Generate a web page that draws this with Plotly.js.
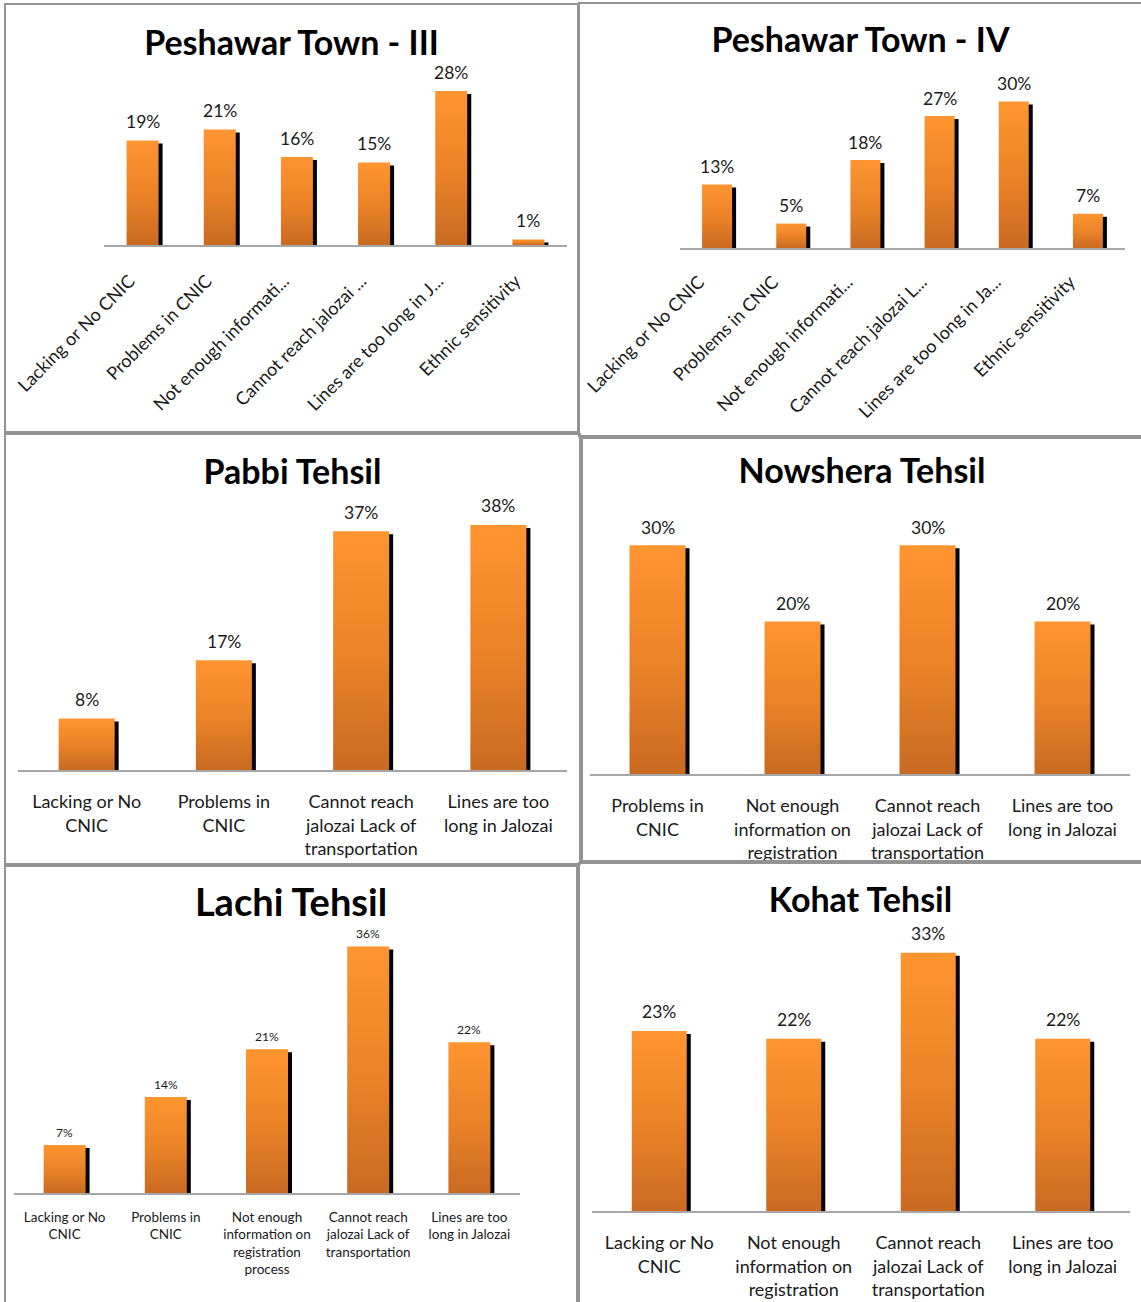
<!DOCTYPE html>
<html>
<head>
<meta charset="utf-8">
<script src="https://cdn.plot.ly/plotly-3.0.1.min.js"></script>
<style>
  html, body { margin: 0; padding: 0; background: #fff; width: 1141px; height: 1302px; overflow: hidden; }
  .panel { position: absolute; }
  .frame { position: absolute; border: 2px solid #939393; box-sizing: border-box; pointer-events: none; }
</style>
</head>
<body>
<script>
// ---- survey data: reasons for not registering, by area (percent of respondents) ----
const titles = ['Peshawar Town - III', 'Peshawar Town - IV', 'Pabbi Tehsil', 'Nowshera Tehsil', 'Lachi Tehsil', 'Kohat Tehsil'];

const peshawar3Labels = ['Lacking or No CNIC', 'Problems in CNIC', 'Not enough informati...', 'Cannot reach jalozai ...', 'Lines are too long in J...', 'Ethnic sensitivity'];
const peshawar3Values = [19, 21, 16, 15, 28, 1];

const peshawar4Labels = ['Lacking or No CNIC', 'Problems in CNIC', 'Not enough informati...', 'Cannot reach jalozai L...', 'Lines are too long in Ja...', 'Ethnic sensitivity'];
const peshawar4Values = [13, 5, 18, 27, 30, 7];

const pabbiLabels = ['Lacking or No<br>CNIC', 'Problems in<br>CNIC', 'Cannot reach<br>jalozai Lack of<br>transportation', 'Lines are too<br>long in Jalozai'];
const pabbiValues = [8, 17, 37, 38];

const nowsheraLabels = ['Problems in<br>CNIC', 'Not enough<br>information on<br>registration', 'Cannot reach<br>jalozai Lack of<br>transportation', 'Lines are too<br>long in Jalozai'];
const nowsheraValues = [30, 20, 30, 20];

const lachiLabels = ['Lacking or No<br>CNIC', 'Problems in<br>CNIC', 'Not enough<br>information on<br>registration<br>process', 'Cannot reach<br>jalozai Lack of<br>transportation', 'Lines are too<br>long in Jalozai'];
const lachiValues = [7, 14, 21, 36, 22];

const kohatLabels = ['Lacking or No<br>CNIC', 'Not enough<br>information on<br>registration', 'Cannot reach<br>jalozai Lack of<br>transportation', 'Lines are too<br>long in Jalozai'];
const kohatValues = [23, 22, 33, 22];

const seriesLabels = [peshawar3Labels, peshawar4Labels, pabbiLabels, nowsheraLabels, lachiLabels, kohatLabels];
const seriesValues = [peshawar3Values, peshawar4Values, pabbiValues, nowsheraValues, lachiValues, kohatValues];

// ---- panel geometry and styling (page pixels) ----
const panelStyle = [
  { box: [4, 3, 575, 430],   plotX: [104, 567], base: 245,  scale: 5.5,  ymax: 30, titleY: 40, titleSize: 34, barW: 32, valFont: 17.5, valGap: 19, tickFont: 18, tickAngle: -45, standoff: 17, shift: -13 },
  { box: [578, 2, 565, 435], plotX: [680, 1125], base: 248, scale: 4.9,  ymax: 35, titleY: 38, titleSize: 34, barW: 30, valFont: 17.5, valGap: 18, tickFont: 18, tickAngle: -45, standoff: 15, shift: -18 },
  { box: [4, 433, 577, 432], plotX: [18, 567],  base: 770,  scale: 6.45, ymax: 40, titleY: 39, titleSize: 34, barW: 56, valFont: 17.5, valGap: 19, tickFont: 18, tickAngle: 0, standoff: 15, shift: 0 },
  { box: [581, 437, 562, 425], plotX: [590, 1130], base: 774, scale: 7.64, ymax: 35, titleY: 34, titleSize: 34, barW: 56, valFont: 17.5, valGap: 18, tickFont: 18, tickAngle: 0, standoff: 15, shift: 0 },
  { box: [4, 865, 574, 440], plotX: [14, 520],  base: 1193, scale: 6.85, ymax: 40, titleY: 38, titleSize: 38, barW: 42, valFont: 12, valGap: 13, tickFont: 13.5, tickAngle: 0, standoff: 11, shift: 0 },
  { box: [578, 862, 565, 442], plotX: [592, 1130], base: 1211, scale: 7.83, ymax: 35, titleY: 38, titleSize: 34, barW: 55, valFont: 17.5, valGap: 19, tickFont: 18, tickAngle: 0, standoff: 15, shift: 0 }
];

const FONT = 'Lato, "Open Sans", sans-serif';
const SHADOW_PX = 4;      // width of the dark edge to the right of each bar
const SHADOW_DROP = 3;    // how far its top sits below the bar top

function addGradient(gd, idx) {
  const ns = 'http://www.w3.org/2000/svg';
  const svg = gd.querySelector('svg.main-svg');
  let defs = svg.querySelector('defs');
  if (!defs) { defs = document.createElementNS(ns, 'defs'); svg.insertBefore(defs, svg.firstChild); }
  const grad = document.createElementNS(ns, 'linearGradient');
  grad.setAttribute('id', 'barFill' + idx);
  grad.setAttribute('x1', '0'); grad.setAttribute('y1', '0');
  grad.setAttribute('x2', '0'); grad.setAttribute('y2', '1');
  [['0%', '#ff9530'], ['55%', '#e98127'], ['100%', '#c96a21']].forEach(([o, c]) => {
    const s = document.createElementNS(ns, 'stop');
    s.setAttribute('offset', o); s.setAttribute('stop-color', c);
    grad.appendChild(s);
  });
  defs.appendChild(grad);
  const traces = gd.querySelectorAll('g.barlayer g.trace');
  if (traces.length > 1) {
    traces[1].querySelectorAll('path').forEach(p => { p.style.fill = 'url(#barFill' + idx + ')'; });
  }
}

panelStyle.forEach((st, i) => {
  const [bx, by, bw, bh] = st.box;
  const labels = seriesLabels[i];
  const values = seriesValues[i];
  const n = labels.length;

  const div = document.createElement('div');
  div.className = 'panel';
  div.style.left = bx + 'px'; div.style.top = by + 'px';
  div.style.width = bw + 'px'; div.style.height = bh + 'px';
  document.body.appendChild(div);

  const frame = document.createElement('div');
  frame.className = 'frame';
  frame.style.left = bx + 'px'; frame.style.top = by + 'px';
  frame.style.width = bw + 'px'; frame.style.height = bh + 'px';

  const plotW = st.plotX[1] - st.plotX[0];
  const slot = plotW / n;                 // pixels per category
  const w = st.barW / slot;               // bar width in category units
  const shadowOff = SHADOW_PX / slot;

  const margin = {
    l: st.plotX[0] - bx,
    r: bx + bw - st.plotX[1],
    t: st.base - st.ymax * st.scale - by,
    b: by + bh - st.base,
    pad: 0
  };

  const shadow = {
    type: 'bar', x: labels,
    y: values.map(v => Math.max(0, v - SHADOW_DROP / st.scale)),
    width: w, offset: -w / 2 + shadowOff,
    marker: { color: '#000000', line: { width: 0 } },
    hoverinfo: 'skip', showlegend: false
  };
  const bars = {
    type: 'bar', x: labels, y: values,
    width: w, offset: -w / 2,
    marker: { color: '#f28a2c', line: { width: 0 } },
    showlegend: false
  };

  const annotations = labels.map((lab, k) => ({
    x: lab, y: values[k], xref: 'x', yref: 'y',
    text: values[k] + '%', showarrow: false,
    yanchor: 'middle', yshift: st.valGap,
    font: { family: FONT, size: st.valFont, color: '#1a1a1a' }
  }));

  const layout = {
    width: bw, height: bh,
    margin: margin,
    paper_bgcolor: '#ffffff', plot_bgcolor: '#ffffff',
    barmode: 'overlay',
    title: {
      text: '<b>' + titles[i] + '</b>',
      font: { family: FONT, size: st.titleSize, color: '#000000' },
      x: 0.5, xanchor: 'center', xref: 'container',
      y: 1 - st.titleY / bh, yanchor: 'middle', yref: 'container'
    },
    xaxis: {
      type: 'category', range: [-0.5, n - 0.5],
      showline: true, linecolor: '#a6a6a6', linewidth: 1.5,
      showgrid: false, zeroline: false, ticks: '',
      tickangle: st.tickAngle, ticklabelstandoff: st.standoff, ticklabelshift: st.shift,
      tickfont: { family: FONT, size: st.tickFont, color: '#1a1a1a' },
      automargin: false, fixedrange: true
    },
    yaxis: {
      range: [0, st.ymax], visible: false, fixedrange: true
    },
    annotations: annotations,
    font: { family: FONT }
  };

  Plotly.newPlot(div, [shadow, bars], layout, { staticPlot: true, displayModeBar: false })
    .then(gd => { addGradient(gd, i); document.body.appendChild(frame); });
});
</script>
</body>
</html>
